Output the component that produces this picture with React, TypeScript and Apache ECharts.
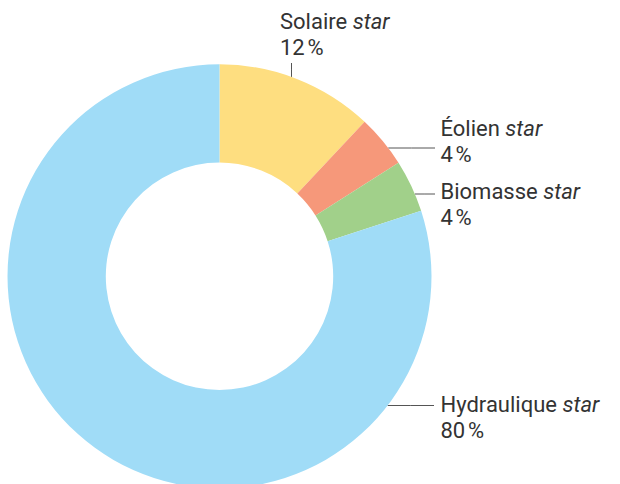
import React, { useEffect, useRef } from "react";
import * as echarts from "echarts";

const categories = ["Solaire", "Éolien", "Biomasse", "Hydraulique"];
const values = [12, 4, 4, 80];
const suffix = "star";
const colors = ["#FEDE80", "#F6987A", "#A1D08A", "#A0DCF7"];

const FONT = "Roboto, 'Noto Sans', sans-serif";

export default function App() {
  const ref = useRef<HTMLDivElement>(null);
  useEffect(() => {
    const chart = echarts.init(ref.current!, null, { renderer: "svg" });
    const cx = 219.5;
    const cy = 276.3;
    const R = 212;
    const r0 = 113.7;
    const place = [
      { x: 280, top: 8, kind: "v", lx: 291.5, end: 63 },
      { x: 440.5, top: 115, kind: "h", ly: 148, end: 435 },
      { x: 440.5, top: 178.5, kind: "h", ly: 194, end: 435 },
      { x: 440.5, top: 391.5, kind: "h", ly: 405.5, end: 434 },
    ];
    chart.setOption({
      animation: false,
      series: [
        {
          type: "pie",
          center: [cx, cy],
          radius: [r0, R],
          startAngle: 90,
          clockwise: true,
          avoidLabelOverlap: false,
          data: categories.map((c, i) => ({
            name: c,
            value: values[i],
            itemStyle: { color: colors[i] },
          })),
          label: {
            show: true,
            position: "outside",
            formatter: (p: any) => `{n|${p.name} }{i|${suffix}}\n{n|${p.value}\u202F%}`,
            rich: {
              n: { fontSize: 22, fontFamily: FONT, color: "#333", lineHeight: 26 },
              i: { fontSize: 22, fontFamily: FONT, color: "#333", fontStyle: "italic", lineHeight: 26 },
            },
          },
          labelLine: { show: true, lineStyle: { color: "#555", width: 1 } },
          labelLayout: (params: any) => {
            const p = place[params.dataIndex];
            let pts: number[][];
            if (p.kind === "v") {
              const dx = (p.lx as number) - cx;
              const y0 = cy - Math.sqrt(R * R - dx * dx);
              pts = [[p.lx as number, y0], [p.lx as number, (y0 + p.end) / 2], [p.lx as number, p.end]];
            } else {
              const dy = (p.ly as number) - cy;
              const x0 = cx + Math.sqrt(R * R - dy * dy);
              pts = [[x0, p.ly as number], [(x0 + p.end) / 2, p.ly as number], [p.end, p.ly as number]];
            }
            return {
              x: p.x,
              y: p.top,
              align: "left",
              verticalAlign: "top",
              labelLinePoints: pts,
            };
          },
        },
      ],
    });
    return () => chart.dispose();
  }, []);
  return (
    <div
      ref={ref}
      style={{ position: "absolute", left: 0, top: 0, width: 620, height: 484 }}
    />
  );
}
